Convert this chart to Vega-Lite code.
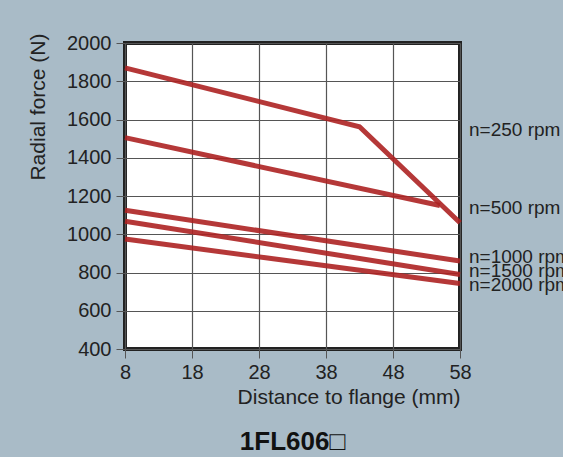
{
  "$schema": "https://vega.github.io/schema/vega-lite/v6.json",
  "autosize": {"type": "none"},
  "width": 335,
  "height": 306,
  "padding": {"left": 125, "top": 43, "right": 103, "bottom": 108},
  "background": "#a9bbc7",
  "title": {
    "text": "1FL606□",
    "orient": "bottom",
    "anchor": "middle",
    "fontSize": 26,
    "fontWeight": "bold",
    "font": "Liberation Sans",
    "color": "#111111",
    "offset": 22
  },
  "datasets": {
    "curves": [
      {"series": "250", "distance": 8, "force": 1870},
      {"series": "250", "distance": 43, "force": 1562},
      {"series": "250", "distance": 58, "force": 1060},
      {"series": "500", "distance": 8, "force": 1505},
      {"series": "500", "distance": 55, "force": 1150},
      {"series": "1000", "distance": 8, "force": 1125},
      {"series": "1000", "distance": 58, "force": 860},
      {"series": "1500", "distance": 8, "force": 1068},
      {"series": "1500", "distance": 58, "force": 790},
      {"series": "2000", "distance": 8, "force": 975},
      {"series": "2000", "distance": 58, "force": 742}
    ],
    "labels": [
      {"label": "n=250 rpm", "distance": 58, "force": 1550},
      {"label": "n=500 rpm", "distance": 58, "force": 1142},
      {"label": "n=1000 rpm", "distance": 58, "force": 888},
      {"label": "n=1500 rpm", "distance": 58, "force": 811},
      {"label": "n=2000 rpm", "distance": 58, "force": 741}
    ]
  },
  "config": {
    "font": "Liberation Sans",
    "view": {"fill": "white", "stroke": "#222222", "strokeWidth": 4},
    "axis": {
      "domain": false,
      "grid": true,
      "gridColor": "#555555",
      "gridWidth": 1.2,
      "tickColor": "#555555",
      "tickSize": 9,
      "labelFontSize": 20,
      "labelColor": "#222222",
      "labelOverlap": false,
      "labelFlush": false,
      "titleFontSize": 21,
      "titleFontWeight": "normal",
      "titleColor": "#222222"
    }
  },
  "encoding": {
    "x": {
      "field": "distance", "type": "quantitative",
      "scale": {"domain": [8, 58], "nice": false, "zero": false},
      "axis": {"values": [8, 18, 28, 38, 48, 58], "format": "d", "title": "Distance to flange (mm)", "titleAnchor": "end", "labelPadding": 4, "titlePadding": 4}
    },
    "y": {
      "field": "force", "type": "quantitative",
      "scale": {"domain": [400, 2000], "nice": false, "zero": false},
      "axis": {"values": [400, 600, 800, 1000, 1200, 1400, 1600, 1800, 2000], "tickCount": 9, "format": "d", "title": "Radial force (N)", "titleAnchor": "end", "titleY": -10, "labelPadding": 5, "titlePadding": 18}
    }
  },
  "layer": [
    {
      "data": {"name": "curves"},
      "mark": {"type": "line", "color": "#ad2222", "opacity": 0.9, "strokeWidth": 5, "strokeCap": "butt"},
      "encoding": {
        "detail": {"field": "series", "type": "nominal"}
      }
    },
    {
      "data": {"name": "labels"},
      "mark": {"type": "text", "align": "left", "baseline": "middle", "dx": 9, "dy": 1, "fontSize": 19, "color": "#222222", "clip": false},
      "encoding": {
        "text": {"field": "label", "type": "nominal"}
      }
    }
  ]
}
